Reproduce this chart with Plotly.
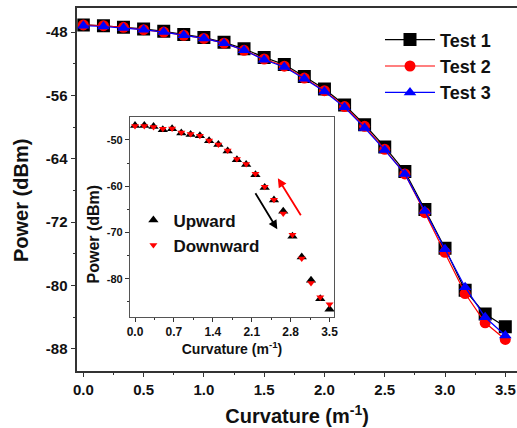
import plotly.graph_objects as go

# ---------------- data ----------------
curvature = [0.0, 0.167, 0.333, 0.5, 0.667, 0.833, 1.0, 1.167, 1.333, 1.5, 1.667,
             1.833, 2.0, 2.167, 2.333, 2.5, 2.667, 2.833, 3.0, 3.167, 3.333, 3.5]

test1 = [-47.1, -47.2, -47.4, -47.6, -47.9, -48.3, -48.7, -49.3, -50.1, -51.2, -52.1,
         -53.6, -55.2, -57.2, -59.7, -62.5, -65.6, -70.4, -75.3, -80.6, -83.6, -85.2]
test2 = [-47.1, -47.2, -47.4, -47.7, -48.0, -48.4, -48.8, -49.4, -50.3, -51.4, -52.3,
         -53.8, -55.4, -57.4, -59.9, -62.8, -65.9, -70.8, -75.8, -81.0, -84.7, -86.8]
test3 = [-47.2, -47.3, -47.5, -47.7, -48.0, -48.4, -48.8, -49.4, -50.3, -51.5, -52.4,
         -53.9, -55.5, -57.5, -60.1, -62.9, -65.9, -70.6, -75.4, -80.2, -84.0, -86.3]

inset_curvature = curvature
upward = [-46.9, -46.9, -47.1, -47.8, -47.6, -48.5, -48.8, -49.1, -50.2, -51.0, -52.4,
          -54.3, -55.3, -57.5, -60.3, -63.0, -65.4, -70.8, -75.3, -80.3, -84.3, -86.6]
downward = [-47.0, -47.0, -47.2, -47.6, -47.5, -48.4, -48.7, -49.1, -50.1, -51.0, -52.3,
            -54.1, -55.2, -57.3, -60.1, -62.9, -65.9, -70.5, -75.6, -80.9, -84.0, -85.5]

main_xticks = [0.0, 0.5, 1.0, 1.5, 2.0, 2.5, 3.0, 3.5]
main_yticks = [-88, -80, -72, -64, -56, -48]
inset_xticks = [0.0, 0.7, 1.4, 2.1, 2.8, 3.5]
inset_yticks = [-80, -70, -60, -50]

# ---------------- figure ----------------
FONT = "Liberation Sans, Arial, sans-serif"
NARROW = "Liberation Sans Narrow, Liberation Sans, Arial, sans-serif"
AX = "#333333"
TXT = "#111111"

fig = go.Figure()

fig.add_trace(go.Scatter(x=curvature, y=test1, name="Test 1", mode="lines+markers",
                         line=dict(color="black", width=1.2),
                         marker=dict(symbol="square", size=13, color="black"),
                         legend="legend"))
fig.add_trace(go.Scatter(x=curvature, y=test2, name="Test 2", mode="lines+markers",
                         line=dict(color="#ff0000", width=1.2),
                         marker=dict(symbol="circle", size=11, color="#ff0000"),
                         legend="legend"))
fig.add_trace(go.Scatter(x=curvature, y=test3, name="Test 3", mode="lines+markers",
                         line=dict(color="#0000ff", width=1.2),
                         marker=dict(symbol="triangle-up", size=11, color="#0000ff"),
                         legend="legend"))

fig.add_trace(go.Scatter(x=inset_curvature, y=upward, name="Upward", mode="markers",
                         marker=dict(symbol="triangle-up", size=9, color="black"),
                         xaxis="x2", yaxis="y2", legend="legend2"))
fig.add_trace(go.Scatter(x=inset_curvature, y=downward, name="Downward", mode="markers",
                         marker=dict(symbol="triangle-down", size=7, color="#ff0000"),
                         xaxis="x2", yaxis="y2", legend="legend2"))


def axis(**kw):
    base = dict(showgrid=False, zeroline=False, showline=True, linecolor=AX,
                ticks="outside", tickcolor=AX, automargin=False)
    base.update(kw)
    return base


fig.update_layout(
    width=517, height=428,
    margin=dict(l=0, r=0, t=0, b=0),
    paper_bgcolor="white", plot_bgcolor="white",
    font=dict(family=FONT, color=TXT),
    showlegend=True,
    xaxis=axis(domain=[0.1495, 1.0], range=[-0.05, 3.597],
               linewidth=1.5, mirror=True, tickvals=main_xticks,
               ticktext=[f"{v:.1f}" for v in main_xticks], ticklen=5, tickwidth=1.3,
               ticklabeloverflow="allow",
               minor=dict(dtick=0.25, tick0=0, ticks="outside", ticklen=3, tickcolor=AX),
               tickfont=dict(size=15, family=FONT, weight="bold", color=TXT),
               title=dict(text="Curvature (m<sup>-1</sup>)", standoff=12,
                          font=dict(size=20, family=FONT, weight="bold", color=TXT))),
    yaxis=axis(domain=[0.1339, 0.9806], range=[-90.74, -45.0],
               linewidth=1.5, tickvals=main_yticks,
               ticktext=[str(v) for v in main_yticks], ticklen=5, tickwidth=1.3,
               minor=dict(dtick=4, tick0=0, ticks="outside", ticklen=3, tickcolor=AX),
               tickfont=dict(size=15, family=FONT, weight="bold", color=TXT)),
    xaxis2=axis(domain=[0.2515, 0.646], range=[-0.09, 3.58], anchor="y2",
                linewidth=1.2, linecolor="#555555", mirror=True, tickvals=inset_xticks,
                ticktext=[f"{v:.1f}" for v in inset_xticks], ticklen=4, tickwidth=1,
                minor=dict(dtick=0.35, tick0=0, ticks="outside", ticklen=2, tickcolor=AX),
                tickfont=dict(size=12, family=NARROW, weight="bold", color=TXT),
                title=dict(text="Curvature (m<sup>-1</sup>)", standoff=4,
                           font=dict(size=14, family=FONT, weight="bold", color=TXT))),
    yaxis2=axis(domain=[0.26, 0.726], range=[-88.2, -45.1], anchor="x2",
                linewidth=1.2, linecolor="#555555", mirror=True, tickvals=inset_yticks,
                ticktext=[str(v) for v in inset_yticks], ticklen=4, tickwidth=1,
                minor=dict(dtick=5, tick0=0, ticks="outside", ticklen=2, tickcolor=AX),
                tickfont=dict(size=11, family=NARROW, weight="bold", color=TXT)),
    legend=dict(x=0.735, y=0.95, xanchor="left", yanchor="top", bgcolor="rgba(0,0,0,0)",
                itemwidth=50, font=dict(size=18, family=FONT, weight="bold", color=TXT),
                tracegroupgap=0),
    legend2=dict(x=0.258, y=0.527, xanchor="left", yanchor="top", bgcolor="rgba(0,0,0,0)",
                 itemwidth=30, font=dict(size=17, family=FONT, weight="bold", color=TXT),
                 tracegroupgap=0),
)

# y-axis titles (placed as rotated annotations to match reference position)
fig.add_annotation(text="Power (dBm)", x=21 / 517, y=1 - 201 / 428, xref="paper",
                   yref="paper", xanchor="center", yanchor="middle", showarrow=False,
                   textangle=-90,
                   font=dict(size=20, family=FONT, weight="bold", color=TXT))
fig.add_annotation(text="Power (dBm)", x=92.5 / 517, y=1 - 234 / 428, xref="paper",
                   yref="paper", xanchor="center", yanchor="middle", showarrow=False,
                   textangle=-90,
                   font=dict(size=16, family=FONT, weight="bold", color=TXT))

# direction arrows in the inset
fig.add_annotation(x=2.56, y=-69.3, ax=2.15, ay=-61.2, xref="x2", yref="y2",
                   axref="x2", ayref="y2", showarrow=True, arrowhead=2, arrowsize=1,
                   arrowwidth=1.8, arrowcolor="black", text="")
fig.add_annotation(x=2.57, y=-58.3, ax=3.0, ay=-66.6, xref="x2", yref="y2",
                   axref="x2", ayref="y2", showarrow=True, arrowhead=2, arrowsize=1,
                   arrowwidth=1.8, arrowcolor="#ff0000", text="")

fig.write_html(
    "out.html",
    config={"displayModeBar": False},
    post_script="document.body.style.margin='0';document.body.style.overflow='hidden';",
)
